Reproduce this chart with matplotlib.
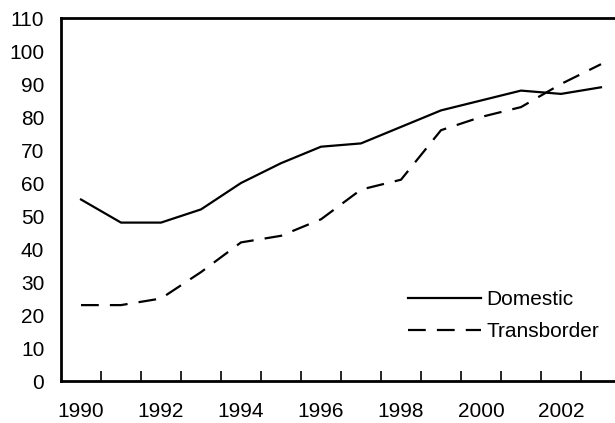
import matplotlib.pyplot as plt
import numpy as np

plt.rcParams['font.family'] = ['Liberation Sans', 'DejaVu Sans']

years = list(range(1990, 2004))
domestic = [55, 48, 48, 52, 60, 66, 71, 72, 77, 82, 85, 88, 87, 89]
transborder = [23, 23, 25, 33, 42, 44, 49, 58, 61, 76, 80, 83, 90, 96]
y_ticks = list(range(0, 111, 10))

fig = plt.figure(figsize=(6.15, 4.23), dpi=100)
# axis runs a little past the right edge, like the cropped original
ax = fig.add_axes([61 / 615, 42 / 423, 560 / 615, 363 / 423])

x = np.arange(len(years))
ax.plot(x, domestic, color='black', lw=1.6, label='Domestic')
ax.plot(x, transborder, color='black', lw=1.6, dashes=(8, 5), label='Transborder')

ax.set_xlim(-0.5, len(years) - 0.5)
ax.set_ylim(0, 110)
ax.set_yticks(y_ticks)
ax.set_yticklabels([str(v) for v in y_ticks], fontsize=15)
ax.tick_params(axis='y', length=0, pad=12)

# category style ticks between years, labels every other year
ax.set_xticks(np.arange(0.5, len(years) - 0.5, 1))
ax.set_xticklabels([])
ax.set_xticks(x[::2], minor=True)
ax.set_xticklabels([str(y) for y in years[::2]], minor=True, fontsize=15)
ax.tick_params(axis='x', which='major', direction='in', length=7, width=1.2)
ax.tick_params(axis='x', which='minor', length=0, pad=15)

for s in ax.spines.values():
    s.set_linewidth(2)
ax.spines['right'].set_visible(False)

leg = ax.legend(loc='upper left', bbox_to_anchor=(398 / 615, 1 - 280 / 423),
                bbox_transform=fig.transFigure, frameon=False, borderpad=0,
                fontsize=15, handlelength=3.5, handletextpad=0.25, labelspacing=0.6)

fig.savefig('out.png', dpi=100)
